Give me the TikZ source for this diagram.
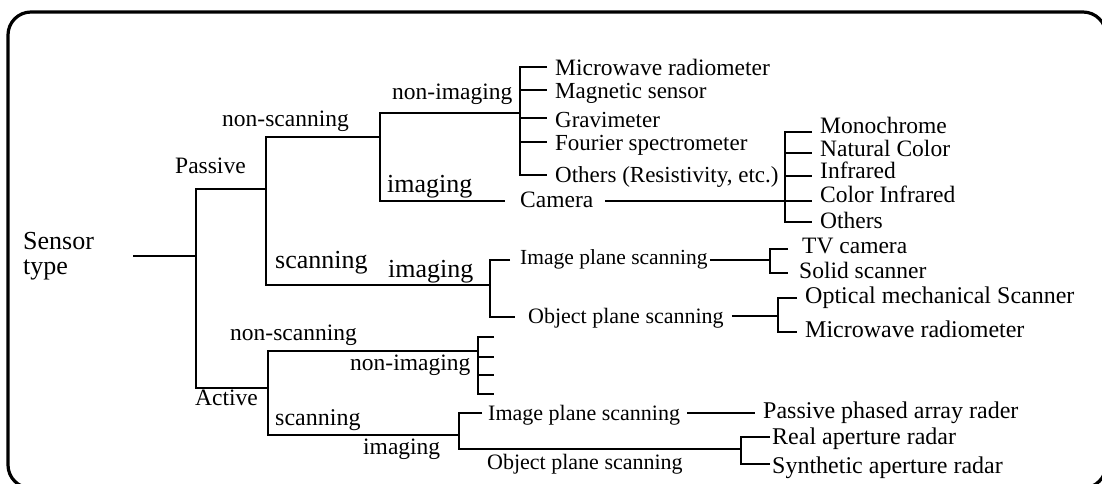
\documentclass[tikz,border=0pt]{standalone}
\usepackage{fontspec}
\setmainfont{Liberation Serif}
\usetikzlibrary{calc}
\begin{document}
\begin{tikzpicture}[x=1pt,y=-1pt,
  ln/.style={line width=2.8pt},
  lab/.style={inner sep=0pt, anchor=base west},
  f/.style={font=\fontsize{#1}{#1}\selectfont}]
\useasboundingbox (0,0) rectangle (1102,483);
\begin{scope}
  \clip (0,0) rectangle (1102,483);
  \draw[line width=3.2pt, rounded corners=23pt] (8,12) rectangle (1106,488);
\end{scope}

% ---------- labels ----------
\node[inner sep=0pt, anchor=west, align=left, font=\fontsize{26}{25}\selectfont] (sensor) at (23,256.5) {Sensor\\type};
\node[lab,f=23.5] (passive) at (175,173) {Passive};
\node[lab,f=23.5] (pnscan) at (222,126) {non-scanning};
\node[lab,f=26] (pscan) at (275,268) {scanning};
\node[lab,f=23.5] (pnimg) at (392,99) {non-imaging};
\node[lab,f=26] (pimg) at (387,192) {imaging};
\node[lab,f=26] (psimg) at (388,277) {imaging};
\node[lab,f=23.5] (camera) at (520,207) {Camera};

\node[lab,f=23.5] (mw1) at (555,75) {Microwave radiometer};
\node[lab,f=23] (mag) at (555,98) {Magnetic sensor};
\node[lab,f=23] (grav) at (555,127) {Gravimeter};
\node[lab,f=23] (four) at (555,150) {Fourier spectrometer};
\node[lab,f=23] (oth1) at (555,182) {Others (Resistivity, etc.)};

\node[lab,f=23.5] (mono) at (820,133) {Monochrome};
\node[lab,f=23.5] (nat) at (820,156) {Natural Color};
\node[lab,f=23.5] (infr) at (820,178) {Infrared};
\node[lab,f=23.5] (cinfr) at (820,202) {Color Infrared};
\node[lab,f=23.5] (oth2) at (820,228) {Others};

\node[lab,f=21.5] (ips1) at (520,264) {Image plane scanning};
\node[lab,f=23.5] (tv) at (802,253) {TV camera};
\node[lab,f=23.5] (solid) at (799,278) {Solid scanner};
\node[lab,f=22] (ops1) at (528,323) {Object plane scanning};
\node[lab,f=24] (opt) at (805,303) {Optical mechanical Scanner};
\node[lab,f=24] (mw2) at (805,337) {Microwave radiometer};

\node[lab,f=23.5] (active) at (195,405) {Active};
\node[lab,f=23.5] (anscan) at (230,340) {non-scanning};
\node[lab,f=23.5] (animg) at (350,370) {non-imaging};
\node[lab,f=24] (ascan) at (275,425) {scanning};
\node[lab,f=23.5] (aimg) at (363,454) {imaging};
\node[lab,f=22] (ips2) at (488,420) {Image plane scanning};
\node[lab,f=24] (ppar) at (763,418) {Passive phased array rader};
\node[lab,f=22] (ops2) at (487,469) {Object plane scanning};
\node[lab,f=24] (real) at (772,444) {Real aperture radar};
\node[lab,f=24] (synth) at (772,473) {Synthetic aperture radar};

% ---------- junctions ----------
\coordinate (rootL) at (133,256);
\coordinate (r0) at (196,256);
\coordinate (pA) at (196,189);
\coordinate (aA) at (196,388);
\coordinate (pm) at (266,189);
\coordinate (pns) at (266,137);
\coordinate (ps) at (266,285);
\coordinate (pnsJ) at (380,137);
\coordinate (pni) at (380,113);
\coordinate (pim) at (380,201);
\coordinate (b1J) at (520,113);
\coordinate (b1a) at (520,67);
\coordinate (b1b) at (520,90);
\coordinate (b1c) at (520,118);
\coordinate (b1d) at (520,142);
\coordinate (b1e) at (520,175);
\coordinate (b2a) at (785,132);
\coordinate (b2b) at (785,153);
\coordinate (b2c) at (785,176);
\coordinate (b2J) at (785,201);
\coordinate (b2e) at (785,222);
\coordinate (psJ) at (490,285);
\coordinate (psT) at (490,260);
\coordinate (psB) at (490,317);
\coordinate (b3J) at (770,260);
\coordinate (b3a) at (770,249);
\coordinate (b3b) at (770,273);
\coordinate (b4J) at (778,316);
\coordinate (b4a) at (778,298);
\coordinate (b4b) at (778,332);
\coordinate (am) at (268,388);
\coordinate (ans) at (268,351);
\coordinate (as) at (268,435);
\coordinate (b5J) at (478,351);
\coordinate (b5a) at (478,337);
\coordinate (b5b) at (478,357);
\coordinate (b5c) at (478,375);
\coordinate (b5d) at (478,394);
\coordinate (t5a) at (494,337);
\coordinate (t5b) at (494,357);
\coordinate (t5c) at (494,375);
\coordinate (t5d) at (494,394);
\coordinate (asJ) at (459,435);
\coordinate (aT) at (459,413);
\coordinate (aB) at (459,449);
\coordinate (b6J) at (741,449);
\coordinate (b6a) at (741,437);
\coordinate (b6b) at (741,464);

% ---------- connectors ----------
\draw[ln] (rootL) -- (r0);
\draw[ln] (pm) -- (pA) -- (aA) -- (am);
\draw[ln] (pnsJ) -- (pns) -- (ps) -- (psJ);
% passive non-scanning
\draw[ln] (b1J) -- (pni) -- (pim) -- ($(camera.west |- pim)+(-15,0)$);
\draw[ln] ($(camera.east |- pim)+(12,0)$) -- (b2J);
\draw[ln] ($(mw1.west |- b1a)+(-8,0)$) -- (b1a) -- (b1e) -- ($(oth1.west |- b1e)+(-8,0)$);
\draw[ln] (b1b) -- ($(mag.west |- b1b)+(-8,0)$);
\draw[ln] (b1c) -- ($(grav.west |- b1c)+(-8,0)$);
\draw[ln] (b1d) -- ($(four.west |- b1d)+(-8,0)$);
\draw[ln] ($(mono.west |- b2a)+(-8,0)$) -- (b2a) -- (b2e) -- ($(oth2.west |- b2e)+(-8,0)$);
\draw[ln] (b2b) -- ($(nat.west |- b2b)+(-8,0)$);
\draw[ln] (b2c) -- ($(infr.west |- b2c)+(-8,0)$);
\draw[ln] (b2J) -- ($(cinfr.west |- b2J)+(-8,0)$);
% passive scanning
\draw[ln] ($(ips1.west |- psT)+(-10,0)$) -- (psT) -- (psB) -- ($(ops1.west |- psB)+(-13,0)$);
\draw[ln] ($(ips1.east |- b3J)+(2,0)$) -- (b3J);
\draw[ln] ($(tv.west |- b3a)+(-14,0)$) -- (b3a) -- (b3b) -- ($(solid.west |- b3b)+(-11,0)$);
\draw[ln] ($(ops1.east |- b4J)+(8,0)$) -- (b4J);
\draw[ln] ($(opt.west |- b4a)+(-8,0)$) -- (b4a) -- (b4b) -- ($(mw2.west |- b4b)+(-8,0)$);
% active
\draw[ln] (b5J) -- (ans) -- (as) -- (asJ);
\draw[ln] (t5a) -- (b5a) -- (b5d) -- (t5d);
\draw[ln] (b5b) -- (t5b);
\draw[ln] (b5c) -- (t5c);
\draw[ln] ($(ips2.west |- aT)+(-6,0)$) -- (aT) -- (aB) -- (b6J);
\draw[ln] ($(ips2.east |- aT)+(7,0)$) -- ($(ppar.west |- aT)+(-8,0)$);
\draw[ln] ($(real.west |- b6a)+(-2,0)$) -- (b6a) -- (b6b) -- ($(synth.west |- b6b)+(-2,0)$);
\end{tikzpicture}
\end{document}
